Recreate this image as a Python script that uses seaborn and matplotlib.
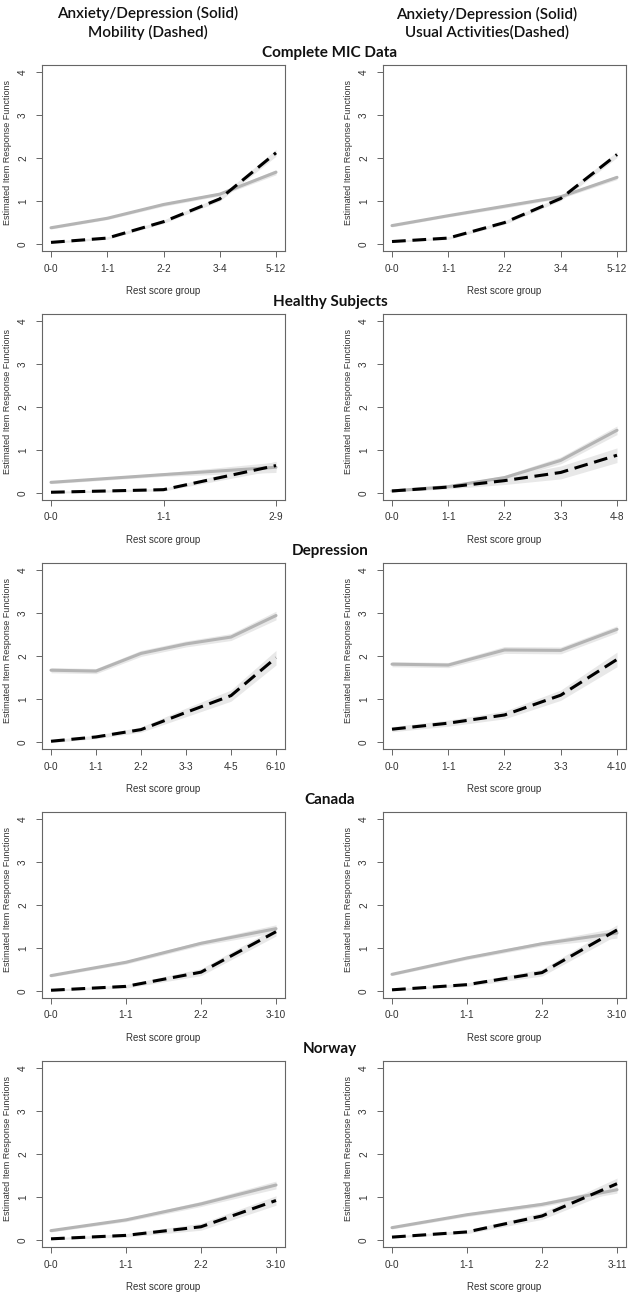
import matplotlib
matplotlib.use("Agg")
import matplotlib.pyplot as plt
import seaborn as sns

# panel groups (rows)
groups = ["Complete MIC Data", "Healthy Subjects", "Depression", "Canada", "Norway"]

# left column: Anxiety/Depression (solid) vs Mobility (dashed)
left_ticks = [
    ["0-0", "1-1", "2-2", "3-4", "5-12"],
    ["0-0", "1-1", "2-9"],
    ["0-0", "1-1", "2-2", "3-3", "4-5", "6-10"],
    ["0-0", "1-1", "2-2", "3-10"],
    ["0-0", "1-1", "2-2", "3-10"],
]
left_solid = [
    [0.38, 0.60, 0.92, 1.16, 1.67],
    [0.25, 0.43, 0.60],
    [1.67, 1.65, 2.06, 2.28, 2.44, 2.94],
    [0.36, 0.67, 1.11, 1.45],
    [0.22, 0.47, 0.84, 1.28],
]
left_solid_err = [
    [0.03, 0.03, 0.04, 0.04, 0.06],
    [0.03, 0.04, 0.12],
    [0.06, 0.06, 0.07, 0.07, 0.08, 0.10],
    [0.03, 0.04, 0.05, 0.09],
    [0.03, 0.04, 0.06, 0.09],
]
left_dashed = [
    [0.04, 0.14, 0.52, 1.05, 2.12],
    [0.02, 0.08, 0.64],
    [0.02, 0.12, 0.29, 0.69, 1.08, 1.96],
    [0.02, 0.11, 0.44, 1.38],
    [0.03, 0.11, 0.31, 0.92],
]
left_dashed_err = [
    [0.02, 0.03, 0.04, 0.05, 0.08],
    [0.02, 0.03, 0.10],
    [0.03, 0.04, 0.06, 0.10, 0.13, 0.17],
    [0.02, 0.04, 0.08, 0.10],
    [0.02, 0.04, 0.08, 0.11],
]

# right column: Anxiety/Depression (solid) vs Usual Activities (dashed)
right_ticks = [
    ["0-0", "1-1", "2-2", "3-4", "5-12"],
    ["0-0", "1-1", "2-2", "3-3", "4-8"],
    ["0-0", "1-1", "2-2", "3-3", "4-10"],
    ["0-0", "1-1", "2-2", "3-10"],
    ["0-0", "1-1", "2-2", "3-11"],
]
right_solid = [
    [0.43, 0.66, 0.88, 1.10, 1.55],
    [0.05, 0.15, 0.36, 0.76, 1.46],
    [1.81, 1.79, 2.14, 2.13, 2.62],
    [0.39, 0.77, 1.10, 1.35],
    [0.29, 0.59, 0.83, 1.17],
]
right_solid_err = [
    [0.03, 0.03, 0.04, 0.04, 0.05],
    [0.02, 0.03, 0.05, 0.08, 0.10],
    [0.06, 0.06, 0.08, 0.08, 0.08],
    [0.03, 0.04, 0.05, 0.12],
    [0.03, 0.04, 0.05, 0.08],
]
right_dashed = [
    [0.06, 0.14, 0.50, 1.06, 2.08],
    [0.05, 0.14, 0.29, 0.48, 0.88],
    [0.30, 0.44, 0.63, 1.09, 1.92],
    [0.03, 0.15, 0.43, 1.42],
    [0.07, 0.19, 0.56, 1.31],
]
right_dashed_err = [
    [0.02, 0.03, 0.04, 0.05, 0.07],
    [0.02, 0.04, 0.09, 0.15, 0.17],
    [0.06, 0.07, 0.09, 0.12, 0.17],
    [0.02, 0.04, 0.08, 0.12],
    [0.02, 0.04, 0.08, 0.13],
]

col_headers = ["Anxiety/Depression (Solid)\nMobility (Dashed)",
               "Anxiety/Depression (Solid)\nUsual Activities(Dashed)"]

sns.set_style("white")
plt.rcParams['font.family'] = ['Liberation Sans', 'DejaVu Sans']

W, H = 630, 1298
fig = plt.figure(figsize=(W / 100, H / 100), dpi=100)

band_col = "#e8e8e8"
solid_col = "#b4b4b4"
frame_col = "#666666"


def draw_panel(ax, ticks, solid, solid_err, dashed, dashed_err):
    xs = list(range(len(ticks)))
    ax.fill_between(xs, [v - e for v, e in zip(solid, solid_err)],
                    [v + e for v, e in zip(solid, solid_err)],
                    color=band_col, lw=0, zorder=1)
    ax.fill_between(xs, [v - e for v, e in zip(dashed, dashed_err)],
                    [v + e for v, e in zip(dashed, dashed_err)],
                    color=band_col, lw=0, zorder=1)
    sns.lineplot(x=xs, y=solid, ax=ax, color=solid_col, lw=2.2, zorder=3)
    sns.lineplot(x=xs, y=dashed, ax=ax, color="black", lw=2.2, zorder=4,
                 linestyle=(0, (4.5, 2.2)))
    n = len(ticks)
    ax.set_xlim(-0.04 * (n - 1), (n - 1) * 1.04)
    ax.set_ylim(-0.16, 4.16)
    ax.set_xticks(xs)
    ax.set_xticklabels(ticks)
    ax.set_yticks([0, 1, 2, 3, 4])
    ax.set_yticklabels(["0", "1", "2", "3", "4"], rotation=90, va="center")
    ax.tick_params(axis="both", direction="out", length=4, width=0.7,
                   color=frame_col, labelsize=7.2, labelcolor="#333333",
                   left=True, bottom=True)
    ax.tick_params(axis="x", pad=5)
    ax.tick_params(axis="y", pad=6)
    for sp in ax.spines.values():
        sp.set_color(frame_col)
        sp.set_linewidth(0.8)
    ax.set_ylabel("Estimated Item Response Functions", fontsize=6.5, color="#333333")
    ax.yaxis.set_label_coords(-0.122, 0.53)
    ax.set_xlabel("Rest score group", fontsize=7, color="#333333")
    ax.xaxis.set_label_coords(0.5, -0.19)


ax_h = 186
lefts = [42, 383]
ax_w = 243
for i, g in enumerate(groups):
    top = 65 + 249 * i
    for j in range(2):
        ax = fig.add_axes([lefts[j] / W, 1 - (top + ax_h) / H, ax_w / W, ax_h / H])
        if j == 0:
            draw_panel(ax, left_ticks[i], left_solid[i], left_solid_err[i],
                       left_dashed[i], left_dashed_err[i])
        else:
            draw_panel(ax, right_ticks[i], right_solid[i], right_solid_err[i],
                       right_dashed[i], right_dashed_err[i])
    fig.text(330 / W, 1 - (top - 12) / H, g, ha="center", va="center",
             fontsize=11, fontweight="bold", family=["Lato", "DejaVu Sans"], color="#111111")

for x, txt in zip([148, 487], col_headers):
    fig.text(x / W, 1 - 23 / H, txt, ha="center", va="center", fontsize=11,
             family=["Lato", "DejaVu Sans"], fontweight="semibold", color="#111111",
             linespacing=1.25)

fig.savefig("out.png", dpi=100)
